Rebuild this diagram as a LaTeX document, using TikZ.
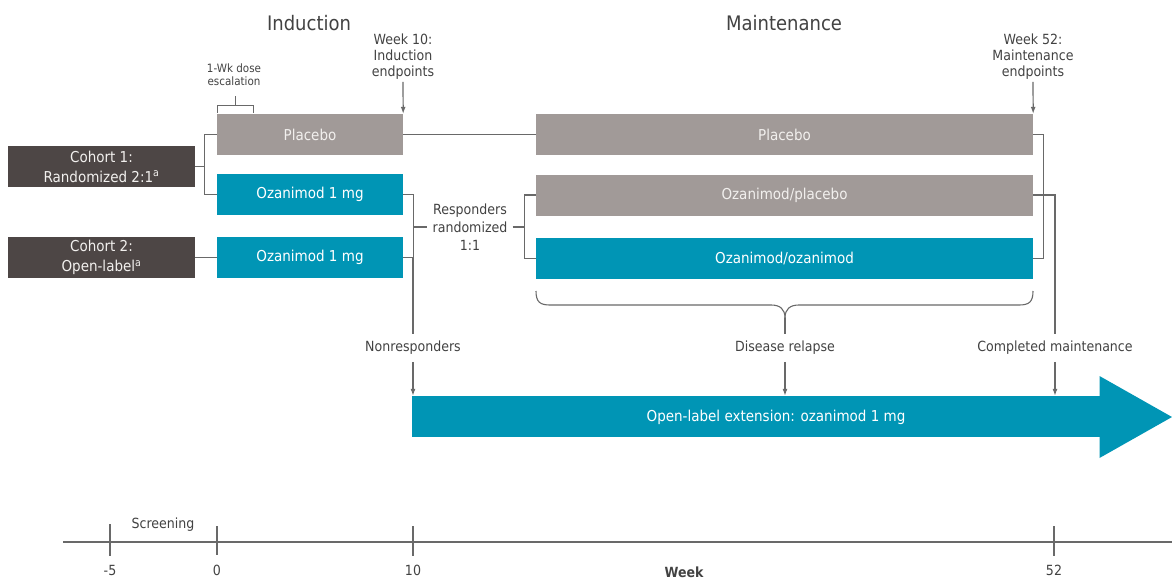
\documentclass[tikz,border=0pt]{standalone}
\usepackage{fontspec}
\setmainfont{DejaVu Sans}[FakeStretch=0.9]
\usetikzlibrary{arrows.meta}
\definecolor{tealc}{RGB}{0,149,181}
\definecolor{grayc}{RGB}{161,154,152}
\definecolor{darkc}{RGB}{77,70,69}
\definecolor{txtc}{RGB}{66,66,66}
\definecolor{linec}{RGB}{105,105,105}
\definecolor{paletxt}{RGB}{242,240,238}
\begin{document}
\begin{tikzpicture}[x=1pt,y=-1pt,
  boxbase/.style={inner sep=0pt, minimum height=41pt, font=\fontsize{15}{18}\selectfont},
  tealbox/.style={boxbase, fill=tealc, text=white},
  graybox/.style={boxbase, fill=grayc, text=paletxt},
  darkbox/.style={boxbase, fill=darkc, text=paletxt, align=center, font=\fontsize{15}{20}\selectfont, minimum width=187pt},
  lbl/.style={text=txtc, inner xsep=2pt, inner ysep=7pt, align=center, font=\fontsize{14}{16}\selectfont},
  conn/.style={draw=linec, line width=1.2pt},
  arr/.style={conn, -{Latex[length=7pt,width=5pt]}},
]
\useasboundingbox (0,0) rectangle (1172,581);

% titles
\node[text=txtc, font=\fontsize{20}{24}\selectfont] (ind) at (309,23) {Induction};
\node[text=txtc, font=\fontsize{20}{24}\selectfont] (mnt) at (784,23) {Maintenance};

% induction boxes
\node[graybox, minimum width=186pt] (plac1) at (310,134.5) {Placebo};
\node[tealbox, minimum width=186pt] (oz1) at (310,194.5) {Ozanimod 1 mg};
\node[tealbox, minimum width=186pt] (oz2) at (310,257.5) {Ozanimod 1 mg};

% cohorts
\node[darkbox] (coh1) at (101.5,166.5) {Cohort 1:\\Randomized 2:1\textsuperscript{a}};
\node[darkbox] (coh2) at (101.5,257.5) {Cohort 2:\\Open-label\textsuperscript{a}};

% maintenance boxes
\node[graybox, minimum width=497pt] (placm) at (784.5,134.5) {Placebo};
\node[graybox, minimum width=497pt] (ozpl) at (784.5,195) {Ozanimod/placebo};
\node[tealbox, minimum width=497pt] (ozoz) at (784.5,258.5) {Ozanimod/ozanimod};

% open-label extension arrow
\node[fill=tealc, inner sep=0pt, minimum width=688pt, minimum height=41pt] (ole) at (756,416.5) {};
\fill[tealc] (1099.5,376) -- (1172,417) -- (1099.5,458) -- cycle;
\node[text=white, font=\fontsize{15}{18}\selectfont] (oletxt) at (776,417) {Open-label extension: ozanimod 1 mg};

% endpoint labels
\node[lbl, inner ysep=2pt] (wk10) at (403,57) {Week 10:\\Induction\\endpoints};
\node[lbl, inner ysep=2pt] (wk52) at (1033,57) {Week 52:\\Maintenance\\endpoints};
\draw[arr] (wk10.south) -- (plac1.north east);
\draw[arr] (wk52.south) -- (placm.north east);

% dose escalation
\node[text=txtc, align=center, font=\fontsize{11.5}{13}\selectfont] (dose) at (234,75) {1-Wk dose\\escalation};
\draw[conn, line width=1pt] (217,113) -- (217,105) -- (253,105) -- (253,113);
\draw[conn, line width=1pt] (235,105) -- (235,96);

% left connectors
\draw[conn] (coh1.east) -- ++(10,0);
\draw[conn] (plac1.west) -- ++(-12,0) |- (oz1.west);
\draw[conn] (coh2.east) -- (oz2.west);
\draw[conn] (plac1.east) -- (placm.west);

% responders
\node[lbl, inner xsep=5pt, inner ysep=2pt, font=\fontsize{14}{18}\selectfont] (resp) at (470,227) {Responders\\randomized\\1:1};
\draw[conn] (oz1.east) -- ++(10,0) |- (oz2.east);
\coordinate (rj) at (413,227);
\coordinate (mj) at (525,227);
\draw[conn] (rj) -- (resp.west);
\draw[conn] (resp.east) -- (mj);
\draw[conn] (ozpl.west) -- ++(-11,0) |- (ozoz.west);

% nonresponders
\node[lbl] (nonr) at (413,348) {Nonresponders};
\draw[conn] (oz2.east -| nonr.north) -- (nonr.north);
\draw[arr] (nonr.south) -- (nonr.south |- ole.north);

% maintenance right connectors
\draw[conn] (placm.east) -- ++(10,0) |- (ozoz.east);
\node[lbl] (comp) at (1055,348) {Completed maintenance};
\draw[conn] (ozpl.east) -- (ozpl.east -| comp.north) -- (comp.north);
\draw[arr] (comp.south) -- (comp.south |- ole.north);

% brace and relapse
\node[lbl] (rel) at (785,348) {Disease relapse};
\draw[conn, line width=1.1pt] (536,291) .. controls (536,302) and (540,305) .. (550,305) -- (771,305) .. controls (780,305) and (785,309) .. (785,318);
\draw[conn, line width=1.1pt] (1033,291) .. controls (1033,302) and (1029,305) .. (1019,305) -- (799,305) .. controls (790,305) and (785,309) .. (785,318);
\draw[conn, line width=1.1pt] (785,318) -- (rel.north);
\draw[arr] (rel.south) -- (rel.south |- ole.north);

% week axis
\draw[conn] (63,542) -- (1172,542);
\draw[conn] (110,524) -- (110,556);
\draw[conn] (217,526) -- (217,555);
\draw[conn] (413,526) -- (413,556);
\draw[conn] (1054,526) -- (1054,556);
\node[lbl, inner ysep=1pt] (tm5) at (110,570) {-5};
\node[lbl, inner ysep=1pt] (t0) at (217,570) {0};
\node[lbl, inner ysep=1pt] (t10) at (413,570) {10};
\node[lbl, inner ysep=1pt] (t52) at (1054,570) {52};
\node[lbl, inner ysep=1pt] (scr) at (163,525) {Screening};
\node[text=txtc, inner sep=1pt, font=\bfseries\fontsize{14}{16}\selectfont] (week) at (684,572) {Week};
\end{tikzpicture}
\end{document}
